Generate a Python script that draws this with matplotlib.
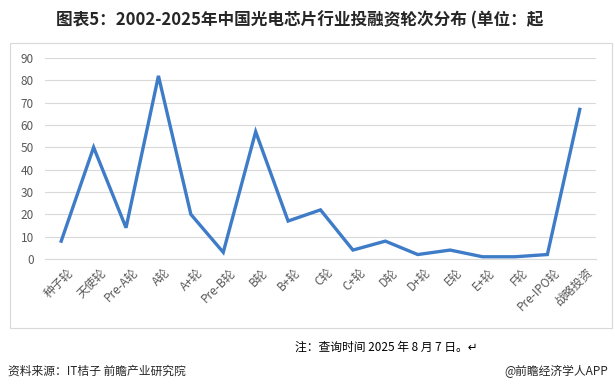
import matplotlib
matplotlib.use("Agg")
import matplotlib.pyplot as plt
from matplotlib.patches import Rectangle

plt.rcParams['font.family'] = ['Noto Sans CJK SC', 'DejaVu Sans']

# ── data ──
rounds = ["种子轮", "天使轮", "Pre-A轮", "A轮", "A+轮", "Pre-B轮", "B轮", "B+轮",
          "C轮", "C+轮", "D轮", "D+轮", "E轮", "E+轮", "F轮", "Pre-IPO轮", "战略投资"]
counts = [8, 50, 14, 82, 20, 3, 57, 17, 22, 4, 8, 2, 4, 1, 1, 2, 67]
y_ticks = list(range(0, 100, 10))

title = "图表5：2002-2025年中国光电芯片行业投融资轮次分布 (单位：起"
note = "注：查询时间 2025 年 8 月 7 日。↵"
source = "资料来源：IT桔子 前瞻产业研究院"
brand = "@前瞻经济学人APP"

W, H = 615, 391
fig = plt.figure(figsize=(W / 100, H / 100), dpi=100)

# chart frame
fig.patches.append(Rectangle((10 / W, 1 - 328 / H), 602 / W, 285 / H,
                             transform=fig.transFigure, fill=False,
                             edgecolor="#d9d9d9", linewidth=0.8))

ax = fig.add_axes([45 / W, 1 - 259 / H, 551 / W, 201 / H])
x = list(range(len(rounds)))
ax.plot(x, counts, color="#3f7cc8", linewidth=2.4, solid_joinstyle="miter")

ax.set_xlim(-0.5, len(rounds) - 0.5)
ax.set_ylim(0, 90)
ax.set_yticks(y_ticks)
ax.set_xticks(x)
ax.set_xticklabels([])
# rotated category labels, end of text sits just right of / below each tick
for xi, name in zip(x, rounds):
    ax.annotate(name, xy=(xi, 0), xycoords=("data", "axes fraction"),
                xytext=(4, -5), textcoords="offset points",
                rotation=45, ha="right", va="top", rotation_mode="anchor",
                fontsize=8.5, color="#595959")
ax.tick_params(axis="y", labelsize=8.5, labelcolor="#595959", length=0, pad=8)
ax.tick_params(axis="x", length=0)
ax.grid(axis="y", color="#d9d9d9", linewidth=0.8)
ax.set_axisbelow(True)
for s in ["top", "right", "left"]:
    ax.spines[s].set_visible(False)
ax.spines["bottom"].set_color("#d9d9d9")

fig.text(300 / W, 1 - 20 / H, title, ha="center", va="center",
         fontsize=12, fontweight="bold", color="#262626")
fig.text(386 / W, 1 - 347 / H, note, ha="center", va="center",
         fontsize=8.5, color="#000000")
fig.text(8 / W, 1 - 371 / H, source, ha="left", va="center",
         fontsize=8.5, color="#262626")
fig.text(608 / W, 1 - 371 / H, brand, ha="right", va="center",
         fontsize=8.5, color="#262626")

fig.savefig("out.png", dpi=100)
